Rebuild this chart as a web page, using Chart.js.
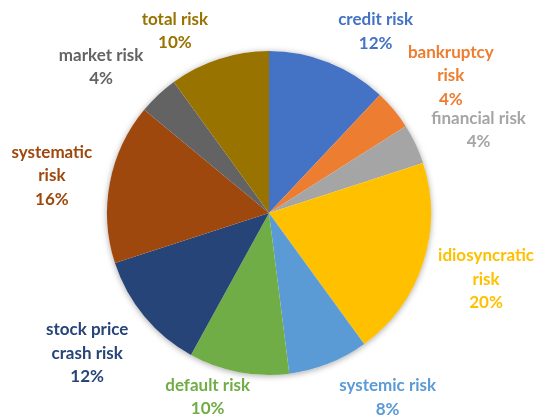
<!DOCTYPE html>
<html>
<head>
<meta charset="utf-8">
<script src="https://cdn.jsdelivr.net/npm/chart.js@4"></script>
<style>
  html, body { margin: 0; padding: 0; background: #ffffff; }
  #wrap { width: 538px; height: 420px; }
</style>
</head>
<body>
<div id="wrap"><canvas id="riskPie" width="538" height="420"></canvas></div>
<script>
// Risk types and their shares (%), clockwise from 12 o'clock
const categories = [
  'credit risk',
  'bankruptcy\nrisk',
  'financial risk',
  'idiosyncratic\nrisk',
  'systemic risk',
  'default risk',
  'stock price\ncrash risk',
  'systematic\nrisk',
  'market risk',
  'total risk'
];
const shares = [12, 4, 4, 20, 8, 10, 12, 16, 4, 10];

const sliceColors = [
  '#4472C4', '#ED7D31', '#A5A5A5', '#FFC000', '#5B9BD5',
  '#70AD47', '#264478', '#9E480E', '#636363', '#997300'
];

// Offset of each label block's centre from the middle of its slice's rim
const labelOffsets = [
  [47, -31], [57, -34], [63, -14], [63, 16], [59, 34],
  [-31, 25], [-57, 37], [-58, -7], [-57, -28], [-44, -28]
];

const LINE_H = 23.5;
const LABEL_FONT = 'bold 17px Lato, "Open Sans", sans-serif';

// Soft drop shadow beneath the pie
const pieShadow = {
  id: 'pieShadow',
  beforeDatasetsDraw(chart) {
    const arc = chart.getDatasetMeta(0).data[0];
    if (!arc) return;
    const ctx = chart.ctx;
    ctx.save();
    ctx.shadowColor = 'rgba(0,0,0,0.35)';
    ctx.shadowBlur = 6;
    ctx.shadowOffsetX = 0;
    ctx.shadowOffsetY = 1;
    ctx.beginPath();
    ctx.arc(arc.x, arc.y, arc.outerRadius, 0, Math.PI * 2);
    ctx.fillStyle = '#ffffff';
    ctx.fill();
    ctx.restore();
  }
};

// Category name and percentage drawn outside each slice
const outsideLabels = {
  id: 'outsideLabels',
  afterDatasetsDraw(chart) {
    const meta = chart.getDatasetMeta(0);
    const ctx = chart.ctx;
    ctx.save();
    ctx.font = LABEL_FONT;
    ctx.textAlign = 'center';
    ctx.textBaseline = 'middle';
    meta.data.forEach((arc, i) => {
      const mid = (arc.startAngle + arc.endAngle) / 2;
      const rimX = arc.x + Math.cos(mid) * arc.outerRadius;
      const rimY = arc.y + Math.sin(mid) * arc.outerRadius;
      const cx = rimX + labelOffsets[i][0];
      const cy = rimY + labelOffsets[i][1];
      const lines = categories[i].split('\n').concat([shares[i] + '%']);
      const top = cy - (lines.length - 1) * LINE_H / 2;
      ctx.fillStyle = sliceColors[i];
      lines.forEach((t, k) => ctx.fillText(t, cx, top + k * LINE_H));
    });
    ctx.restore();
  }
};

new Chart(document.getElementById('riskPie'), {
  type: 'pie',
  data: {
    labels: categories,
    datasets: [{
      data: shares,
      backgroundColor: sliceColors,
      borderWidth: 0
    }]
  },
  options: {
    responsive: false,
    animation: false,
    layout: { padding: { left: 107, right: 107, top: 51, bottom: 45 } },
    plugins: {
      legend: { display: false },
      tooltip: { enabled: false }
    }
  },
  plugins: [pieShadow, outsideLabels]
});
</script>
</body>
</html>
